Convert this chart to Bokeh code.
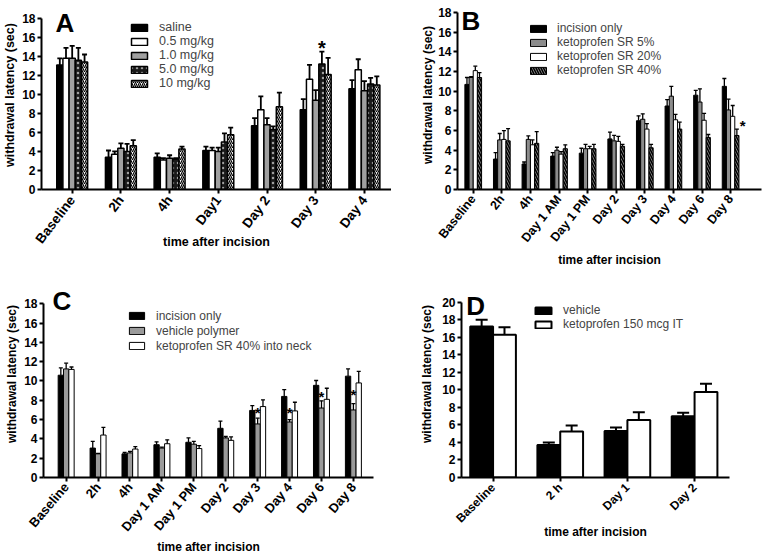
import math
import numpy as np
from bokeh.plotting import figure
from bokeh.models import (ColumnDataSource, Whisker, TeeHead, FixedTicker, Legend,
                          LegendItem, Label, Range1d)
from bokeh.layouts import row, column
from bokeh.embed import file_html
from bokeh.resources import INLINE
from bokeh.core.properties import value

FONT = "Liberation Sans"

# ---------------- Panel A data ----------------
a_cats = ["Baseline", "2h", "4h", "Day1", "Day 2", "Day 3", "Day 4"]
a_names = ["saline", "0.5 mg/kg", "1.0 mg/kg", "5.0 mg/kg", "10 mg/kg"]
a_saline = [13.1, 3.4, 3.4, 4.1, 6.7, 8.4, 10.6]
a_saline_sem = [0.7, 0.7, 0.4, 0.4, 0.8, 1.1, 0.9]
a_05 = [13.8, 3.7, 3.1, 4.1, 8.4, 11.6, 12.6]
a_05_sem = [1.1, 0.3, 0.2, 0.3, 1.4, 1.5, 1.1]
a_10 = [13.8, 4.35, 3.3, 4.0, 6.8, 9.4, 10.4]
a_10_sem = [1.3, 0.5, 0.3, 0.4, 0.7, 1.05, 1.0]
a_50 = [13.6, 4.0, 3.2, 5.0, 6.3, 13.2, 11.1]
a_50_sem = [1.3, 0.8, 0.1, 0.9, 0.35, 1.3, 0.65]
a_100 = [13.4, 4.6, 4.25, 5.75, 8.7, 12.1, 11.0]
a_100_sem = [0.8, 0.6, 0.25, 0.75, 1.5, 1.75, 0.9]
a_star = [("Day 3", 3, 15.45)]

# ---------------- Panel B data ----------------
b_cats = ["Baseline", "2h", "4h", "Day 1 AM", "Day 1 PM", "Day 2", "Day 3", "Day 4", "Day 6", "Day 8"]
b_names = ["incision only", "ketoprofen SR 5%", "ketoprofen SR 20%", "ketoprofen SR 40%"]
b_inc = [10.7, 3.1, 2.6, 3.4, 3.7, 5.15, 7.0, 8.5, 9.6, 10.5]
b_inc_sem = [0.7, 0.65, 0.2, 0.35, 0.5, 0.7, 0.5, 0.65, 0.5, 0.8]
b_5 = [11.4, 5.05, 5.1, 4.0, 4.15, 4.95, 7.15, 9.5, 8.9, 8.1]
b_5_sem = [0.1, 0.65, 0.35, 0.3, 0.45, 0.55, 0.55, 1.0, 1.35, 1.1]
b_20 = [12.1, 5.1, 4.55, 3.6, 4.15, 4.9, 6.15, 7.1, 7.05, 7.45]
b_20_sem = [0.45, 0.9, 0.5, 0.25, 0.25, 0.5, 0.55, 0.55, 0.7, 1.1]
b_40 = [11.4, 4.95, 4.7, 4.15, 4.15, 4.4, 4.25, 6.15, 5.3, 5.5]
b_40_sem = [0.5, 1.25, 1.2, 0.4, 0.45, 0.2, 0.35, 0.7, 0.3, 0.65]
b_star = [("Day 8", 4.4, 6.9)]

# ---------------- Panel C data ----------------
c_cats = ["Baseline", "2h", "4h", "Day 1 AM", "Day 1 PM", "Day 2", "Day 3", "Day 4", "Day 6", "Day 8"]
c_names = ["incision only", "vehicle polymer", "ketoprofen SR 40% into neck"]
c_inc = [10.6, 3.05, 2.45, 3.4, 3.65, 5.1, 6.95, 8.4, 9.55, 10.5]
c_inc_sem = [0.75, 0.7, 0.15, 0.3, 0.45, 0.75, 0.5, 0.7, 0.5, 0.75]
c_veh = [11.25, 2.45, 2.55, 3.05, 3.45, 4.1, 5.55, 5.75, 7.2, 7.0]
c_veh_sem = [0.6, 0.05, 0.15, 0.1, 0.3, 0.15, 0.6, 0.25, 0.75, 0.65]
c_keto = [11.2, 4.4, 2.95, 3.5, 3.0, 3.85, 7.35, 6.9, 8.1, 9.8]
c_keto_sem = [0.25, 0.8, 0.25, 0.4, 0.3, 0.35, 0.7, 0.9, 1.15, 1.2]
c_star = [("Day 3", 1, 7.1), ("Day 4", 1, 7.2), ("Day 6", 1, 8.85), ("Day 8", 1, 9.0)]

# ---------------- Panel D data ----------------
d_cats = ["Baseline", "2 h", "Day 1", "Day 2"]
d_names = ["vehicle", "ketoprofen 150 mcg IT"]
d_veh = [17.25, 3.7, 5.3, 7.0]
d_veh_sem = [0.75, 0.3, 0.4, 0.4]
d_keto = [16.3, 5.25, 6.55, 9.75]
d_keto_sem = [0.85, 0.7, 0.9, 0.95]
d_star = []


def make_panel(letter, cats, names, means, sems, styles, stars, c):
    n = len(cats)
    ns = len(names)
    bw = c["bw"]
    p = figure(width=c["w"], height=c["h"], output_backend="svg", toolbar_location=None,
               x_range=Range1d(*c["xr"]), y_range=Range1d(0, c["ytop"]),
               min_border_left=c["bl"], min_border_right=c["br"],
               min_border_top=0, min_border_bottom=c["bb"])
    p.outline_line_color = None
    p.xgrid.visible = False
    p.ygrid.visible = False
    p.background_fill_color = "white"
    p.border_fill_color = "white"

    items = []
    for k in range(ns):
        off = (k - (ns - 1) / 2) * bw
        x = np.arange(n) + off
        m = np.array(means[k], dtype=float)
        s = np.array(sems[k], dtype=float)
        src = ColumnDataSource(dict(x=x, top=m, upper=m + s))
        r = p.vbar(x="x", top="top", bottom=0, width=bw, source=src,
                   line_color="black", line_width=c["blw"], **styles[k])
        w = Whisker(source=src, base="x", lower="top", upper="upper", dimension="height",
                    lower_head=None,
                    upper_head=TeeHead(size=c["cap"], line_width=c["elw"], line_color="black"),
                    line_width=c["elw"], line_color="black")
        w.level = "glyph"
        p.add_layout(w)
        items.append(LegendItem(label=names[k], renderers=[r]))

    # significance stars
    if stars:
        sx = [cats.index(cat) + (si - (ns - 1) / 2) * bw for cat, si, y in stars]
        sy = [y for cat, si, y in stars]
        p.text(x=sx, y=sy, text=["*"] * len(sx), text_font=value(FONT),
               text_font_size=c["starfs"], text_font_style="bold", text_align="center",
               text_baseline="middle", y_offset=c["staroff"], text_color="black")

    leg = Legend(items=items, location=c["legloc"], orientation="vertical",
                 glyph_width=c["gw"], glyph_height=c["gh"], label_height=c["lh"],
                 label_standoff=c["ls"], spacing=0, padding=0, margin=0,
                 border_line_alpha=0, background_fill_alpha=0,
                 label_text_font=FONT, label_text_font_size=c["legfs"])
    p.add_layout(leg)

    # axes
    p.xaxis.ticker = FixedTicker(ticks=list(range(n)))
    p.xaxis.major_label_overrides = {i: cat for i, cat in enumerate(cats)}
    p.xaxis.major_label_orientation = c["rot"]
    p.yaxis.ticker = FixedTicker(ticks=list(range(0, c["ymax"] + 1, 2)))
    p.yaxis.bounds = (0, c["ymax"])
    for ax in (p.xaxis[0], p.yaxis[0]):
        ax.axis_line_width = 2
        ax.axis_line_color = "black"
        ax.major_tick_line_width = 2
        ax.major_tick_in = 0
        ax.major_tick_out = 4
        ax.minor_tick_line_color = None
        ax.major_label_text_font = FONT
        ax.major_label_text_font_style = "bold"
        ax.major_label_text_color = "black"
        ax.axis_label_text_font = FONT
        ax.axis_label_text_font_style = "bold"
        ax.axis_label_text_font_size = c["labfs"]
        ax.axis_label_text_color = "black"
        ax.major_label_standoff = 2
    p.xaxis.major_label_standoff = c["xms"]
    p.xaxis.major_label_text_font_size = c["xtickfs"]
    p.yaxis.major_label_text_font_size = c["ytickfs"]
    p.xaxis.axis_label = "time after incision"
    p.yaxis.axis_label = "withdrawal latency (sec)"
    p.xaxis.axis_label_standoff = c["xls"]
    p.yaxis.axis_label_standoff = c["yls"]

    p.add_layout(Label(x=c["letter"][0], y=c["letter"][1], text=letter,
                       text_font=FONT, text_font_size=c["letfs"], text_font_style="bold",
                       text_color="black", text_align="left", text_baseline="alphabetic"))
    return p


a_styles = [
    dict(fill_color="black"),
    dict(fill_color="white"),
    dict(fill_color="#a0a0a0"),
    dict(fill_color="#1a1a1a", hatch_pattern="dot", hatch_color="#a0a0a0", hatch_scale=5, hatch_weight=2.5),
    dict(fill_color="white", hatch_pattern="/", hatch_color="black", hatch_scale=4, hatch_weight=1.2),
]
b_styles = [
    dict(fill_color="black"),
    dict(fill_color="#8c8c8c"),
    dict(fill_color="white"),
    dict(fill_color="#8c8c8c", hatch_pattern="\\", hatch_color="black", hatch_scale=5, hatch_weight=1.5),
]
c_styles = [dict(fill_color="black"), dict(fill_color="#9a9a9a"), dict(fill_color="white")]
d_styles = [dict(fill_color="black"), dict(fill_color="white")]

pA = make_panel("A", a_cats, a_names,
                [a_saline, a_05, a_10, a_50, a_100],
                [a_saline_sem, a_05_sem, a_10_sem, a_50_sem, a_100_sem], a_styles, a_star,
                dict(w=391, h=270, bl=41, br=0, bb=80, xr=(-0.63, 6.556), ymax=18, ytop=19.88,
                     bw=0.127, blw=1.5, elw=1.8, cap=5, starfs="20px", staroff=5,
                     legloc=(88, 99), gw=20, gh=9, lh=14, ls=10, legfs="12.5px",
                     rot=0.92, xms=4, xtickfs="13.5px", ytickfs="12px", labfs="12.5px",
                     xls=-19, yls=2, letter=(-0.34, 17.55), letfs="26px"))

pB = make_panel("B", b_cats, b_names,
                [b_inc, b_5, b_20, b_40],
                [b_inc_sem, b_5_sem, b_20_sem, b_40_sem], b_styles, b_star,
                dict(w=371, h=270, bl=66, br=1, bb=73, xr=(-0.55, 10.08), ymax=18, ytop=19.24,
                     bw=0.146, blw=1, elw=1.3, cap=4, starfs="15px", staroff=4,
                     legloc=(71, 112), gw=20, gh=9, lh=14, ls=9, legfs="12px",
                     rot=0.9, xms=3, xtickfs="12.5px", ytickfs="12px", labfs="12px",
                     xls=1, yls=0, letter=(-0.41, 17.15), letfs="26px"))

pC = make_panel("C", c_cats, c_names,
                [c_inc, c_veh, c_keto],
                [c_inc_sem, c_veh_sem, c_keto_sem], c_styles, c_star,
                dict(w=391, h=289, bl=43, br=18, bb=82, xr=(-0.71, 9.63), ymax=18, ytop=21.45,
                     bw=0.167, blw=1, elw=1.3, cap=4, starfs="15px", staroff=4,
                     legloc=(84, 124), gw=19, gh=9, lh=15, ls=10, legfs="12px",
                     rot=0.87, xms=3, xtickfs="13px", ytickfs="12px", labfs="12px",
                     xls=-2, yls=2, letter=(-0.43, 18.3), letfs="26px"))

pD = make_panel("D", d_cats, d_names,
                [d_veh, d_keto],
                [d_veh_sem, d_keto_sem], d_styles, d_star,
                dict(w=371, h=289, bl=70, br=33, bb=79, xr=(-0.47, 3.52), ymax=20, ytop=23.63,
                     bw=0.34, blw=2, elw=2, cap=12, starfs="15px", staroff=4,
                     legloc=(72, 146), gw=20, gh=9, lh=14, ls=10, legfs="12px",
                     rot=math.pi / 4, xms=4, xtickfs="12px", ytickfs="12px", labfs="12px",
                     xls=-8, yls=5, letter=(-0.40, 19.58), letfs="26px"))

layout = column(row(pA, pB), row(pC, pD))

open("out.html", "w").write(file_html(layout, INLINE))
